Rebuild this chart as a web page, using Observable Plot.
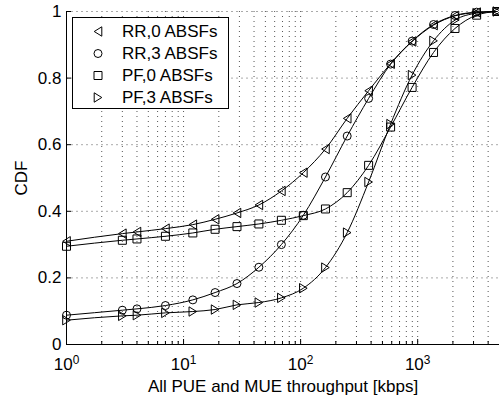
<!DOCTYPE html>
<html><head><meta charset="utf-8">
<script src="https://cdn.jsdelivr.net/npm/d3@7"></script>
<script src="https://cdn.jsdelivr.net/npm/@observablehq/plot@0.6"></script>
<style>
body{margin:0;background:#fff}
#wrap{position:relative;width:499px;height:395px;font-family:"Liberation Sans",Arial,sans-serif}
#legend{position:absolute;left:72px;top:17px;width:157px;height:92px;box-sizing:border-box;border:1px solid #000;background:#fff}
</style>
</head><body><div id="wrap"></div>
<script>
// ---- data ----
const xValues = [1, 3, 4, 7, 12, 18.6, 28.6, 44, 68.5, 105.5, 163, 250, 381, 587, 896, 1366, 2083, 3190, 4750];
const seriesNames = ["RR,0 ABSFs", "RR,3 ABSFs", "PF,0 ABSFs", "PF,3 ABSFs"];
const rr0 = [0.310, 0.333, 0.338, 0.348, 0.360, 0.376, 0.395, 0.419, 0.461, 0.516, 0.587, 0.679, 0.762, 0.843, 0.910, 0.959, 0.987, 0.997, 1.0];
const rr3 = [0.088, 0.103, 0.107, 0.117, 0.134, 0.156, 0.183, 0.232, 0.300, 0.388, 0.503, 0.626, 0.739, 0.842, 0.911, 0.961, 0.988, 0.998, 1.0];
const pf0 = [0.295, 0.313, 0.317, 0.325, 0.335, 0.346, 0.354, 0.362, 0.373, 0.387, 0.407, 0.456, 0.538, 0.653, 0.772, 0.877, 0.949, 0.989, 1.0];
const pf3 = [0.073, 0.086, 0.088, 0.095, 0.099, 0.105, 0.119, 0.126, 0.140, 0.169, 0.231, 0.336, 0.488, 0.662, 0.809, 0.912, 0.974, 0.995, 1.0];
const xTicks = [1, 10, 100, 1000];
const xTickExponents = ["0", "1", "2", "3"];
const yTicks = [0, 0.2, 0.4, 0.6, 0.8, 1];
const yTickLabels = ["0", "0.2", "0.4", "0.6", "0.8", "1"];
const xLabel = "All PUE and MUE throughput [kbps]";
const yLabel = "CDF";

// ---- layout ----
const W = 499, H = 395, mL = 66, mR = 0, mT = 11, mB = 51;
const plotH = H - mT - mB, plotW = W - mL - mR;
const xDomain = [1, 5000];

// ---- symbols ----
const triLeft = {draw(c){ c.moveTo(-3.8,0); c.lineTo(3.8,-4.7); c.lineTo(3.8,4.7); c.closePath(); }};
const triRight = {draw(c){ c.moveTo(3.8,0); c.lineTo(-3.8,-4.7); c.lineTo(-3.8,4.7); c.closePath(); }};
const square = {draw(c){ c.moveTo(-4,-4); c.lineTo(4,-4); c.lineTo(4,4); c.lineTo(-4,4); c.closePath(); }};
const circle = {draw(c){ c.moveTo(4,0); c.arc(0,0,4,0,2*Math.PI); c.closePath(); }};
const symbols = [triLeft, circle, square, triRight];
const values = [rr0, rr3, pf0, pf3];

const rows = seriesNames.flatMap((s, i) => xValues.map((x, j) => ({series: s, x, y: values[i][j], k: i})));

const allLogTicks = d3.scaleLog().domain(xDomain).ticks();
const gridX = allLogTicks.filter(d => d > xDomain[0] && d < xDomain[1]);
const minorX = gridX.filter(d => !xTicks.includes(d));
const majorX = xTicks.filter(d => d > xDomain[0]);
const gridY = yTicks.filter(d => d > 0);
const yFmt = new Map(yTicks.map((d, i) => [d, yTickLabels[i]]));
const xFmt = new Map(xTicks.map((d, i) => [d, "10^" + xTickExponents[i]]));

const chart = Plot.plot({
  width: W, height: H,
  marginLeft: mL, marginRight: mR, marginTop: mT, marginBottom: mB,
  style: {fontFamily: '"Liberation Sans", Arial, sans-serif', fontSize: "17px", background: "transparent", overflow: "visible", color: "black"},
  x: {type: "log", domain: xDomain},
  y: {domain: [0, 1]},
  marks: [
    Plot.ruleX(gridX, {x: d => d, stroke: "#555", strokeDasharray: "1,4", strokeWidth: 1}),
    Plot.ruleY(gridY, {y: d => d, stroke: "#aaa", strokeDasharray: "2,3", strokeWidth: 1}),
    Plot.tickX(majorX, {x: d => d, insetTop: plotH - 5, stroke: "black"}),
    Plot.tickX(minorX, {x: d => d, insetTop: plotH - 3, stroke: "black"}),
    Plot.tickY(yTicks, {y: d => d, insetRight: plotW - 5, stroke: "black"}),
    Plot.ruleX([xDomain[0]], {x: d => d, stroke: "black"}),
    Plot.ruleY([0], {y: d => d, stroke: "black"}),
    Plot.axisX({ticks: xTicks, tickSize: 0, tickPadding: 13, tickFormat: d => xFmt.get(d),
      label: xLabel, labelAnchor: "center", labelArrow: "none", labelOffset: 47}),
    Plot.axisY({ticks: yTicks, tickSize: 0, tickPadding: 5, tickFormat: d => yFmt.get(d),
      label: yLabel, labelAnchor: "center", labelArrow: "none", labelOffset: 52}),
    Plot.line(rows, {x: "x", y: "y", z: "series", stroke: "black", strokeWidth: 1, curve: "monotone-x"}),
    ...seriesNames.map((s, i) => Plot.dot(rows.filter(r => r.k === i), {x: "x", y: "y", symbol: symbols[i], r: 4, stroke: "black", fill: "none", strokeWidth: 1}))
  ]
});

const wrap = document.getElementById("wrap");
wrap.appendChild(chart);

// superscripts for log tick labels
d3.select(chart).selectAll('g[aria-label="x-axis tick label"] text').each(function(){
  const t = d3.select(this);
  const s = t.text();
  const parts = s.split("^");
  if (parts.length === 2) {
    t.text("");
    t.append("tspan").text(parts[0]);
    t.append("tspan").attr("dy", "-0.5em").attr("font-size", "0.7em").text(parts[1]);
  }
});

// legend
const lg = d3.select(wrap).append("div").attr("id", "legend");
const lsvg = lg.append("svg").attr("width", 155).attr("height", 90).style("display", "block");
const rowY = [13.5, 35.5, 57.5, 79.5];
seriesNames.forEach((s, i) => {
  const p = d3.path(); symbols[i].draw(p);
  lsvg.append("path").attr("d", p.toString()).attr("transform", `translate(25,${rowY[i]})`)
    .attr("fill", "none").attr("stroke", "black");
  lsvg.append("text").attr("x", 49).attr("y", rowY[i]).attr("dy", "0.35em")
    .attr("font-size", 17).attr("font-family", '"Liberation Sans", Arial, sans-serif').text(s);
});
</script></body></html>
